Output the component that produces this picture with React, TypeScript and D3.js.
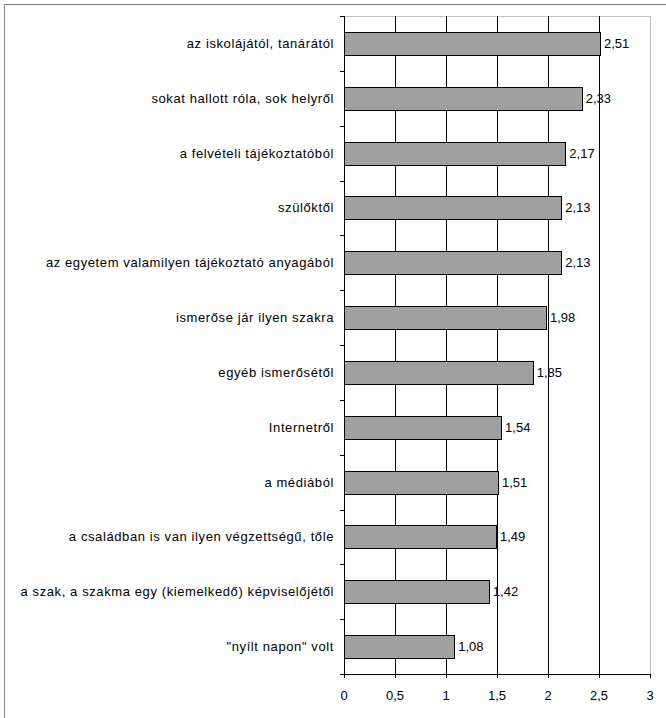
import { useEffect, useRef } from "react"
import * as d3 from "d3"

const categories = [
  "az iskolájától, tanárától",
  "sokat hallott róla, sok helyről",
  "a felvételi tájékoztatóból",
  "szülőktől",
  "az egyetem valamilyen tájékoztató anyagából",
  "ismerőse jár ilyen szakra",
  "egyéb ismerősétől",
  "Internetről",
  "a médiából",
  "a családban is van ilyen végzettségű, tőle",
  "a szak, a szakma egy (kiemelkedő) képviselőjétől",
  "\"nyílt napon\" volt",
]

const values = [2.51, 2.33, 2.17, 2.13, 2.13, 1.98, 1.85, 1.54, 1.51, 1.49, 1.42, 1.08]

const xTicks = [0, 0.5, 1, 1.5, 2, 2.5, 3]

const fmt = (v: number) => String(v).replace(".", ",")

export default function App() {
  const svgRef = useRef<SVGSVGElement>(null)

  useEffect(() => {
    if (!svgRef.current) return
    const root = d3.select(svgRef.current)
    root.selectAll("*").remove()

    const left = 344
    const right = 650
    const top = 16
    const bottom = 674
    const font = "'Liberation Sans', Arial, sans-serif"

    const x = d3.scaleLinear().domain([0, 3]).range([left, right])
    const y = d3
      .scaleBand()
      .domain(categories)
      .range([top, bottom])
      .paddingInner(0.58)
      .paddingOuter(0.29)
    const step = y.step()

    // outer frame
    root
      .append("rect")
      .attr("x", 4.5)
      .attr("y", 4.5)
      .attr("width", 720)
      .attr("height", 800)
      .attr("fill", "#fff")
      .attr("stroke", "#808080")

    // plot area border
    root
      .append("rect")
      .attr("x", left + 0.5)
      .attr("y", top + 0.5)
      .attr("width", right - left)
      .attr("height", bottom - top)
      .attr("fill", "none")
      .attr("stroke", "#c0c0c0")

    // gridlines
    root
      .append("g")
      .selectAll("line")
      .data(xTicks.filter((t) => t > 0 && t < 3))
      .join("line")
      .attr("x1", (d) => Math.round(x(d)) + 0.5)
      .attr("x2", (d) => Math.round(x(d)) + 0.5)
      .attr("y1", top)
      .attr("y2", bottom)
      .attr("stroke", "#000")

    // bars
    root
      .append("g")
      .selectAll("rect")
      .data(values)
      .join("rect")
      .attr("x", left + 0.5)
      .attr("y", (d, i) => Math.round(y(categories[i]) || 0) + 0.5)
      .attr("width", (d) => Math.round(x(d) - left))
      .attr("height", Math.round(y.bandwidth()))
      .attr("fill", "#a0a0a0")
      .attr("stroke", "#000")

    // value labels
    root
      .append("g")
      .selectAll("text")
      .data(values)
      .join("text")
      .attr("x", (d) => x(d) + 4)
      .attr("y", (d, i) => (y(categories[i]) || 0) + y.bandwidth() / 2)
      .attr("dy", "0.35em")
      .attr("font-family", font)
      .attr("font-size", 13)
      .attr("fill", "#000")
      .text((d) => fmt(d))

    // category labels
    root
      .append("g")
      .selectAll("text")
      .data(categories)
      .join("text")
      .attr("x", left - 10)
      .attr("y", (d) => (y(d) || 0) + y.bandwidth() / 2)
      .attr("dy", "0.35em")
      .attr("text-anchor", "end")
      .attr("font-family", font)
      .attr("font-size", 13)
      .attr("letter-spacing", 0.6)
      .attr("fill", "#000")
      .text((d) => d)

    // left axis
    const yAxis = root.append("g").attr("stroke", "#000")
    yAxis
      .append("line")
      .attr("x1", left + 0.5)
      .attr("x2", left + 0.5)
      .attr("y1", top)
      .attr("y2", bottom + 4)
    yAxis
      .selectAll("line.tick")
      .data(d3.range(categories.length + 1))
      .join("line")
      .attr("class", "tick")
      .attr("x1", left - 4)
      .attr("x2", left)
      .attr("y1", (i) => Math.round(top + i * step) + 0.5)
      .attr("y2", (i) => Math.round(top + i * step) + 0.5)

    // bottom axis
    const xAxis = root.append("g")
    xAxis
      .append("line")
      .attr("x1", left)
      .attr("x2", right + 1)
      .attr("y1", bottom + 0.5)
      .attr("y2", bottom + 0.5)
      .attr("stroke", "#000")
    xAxis
      .selectAll("line.tick")
      .data(xTicks)
      .join("line")
      .attr("class", "tick")
      .attr("x1", (d) => Math.round(x(d)) + 0.5)
      .attr("x2", (d) => Math.round(x(d)) + 0.5)
      .attr("y1", bottom)
      .attr("y2", bottom + 4)
      .attr("stroke", "#000")
    xAxis
      .selectAll("text")
      .data(xTicks)
      .join("text")
      .attr("x", (d) => x(d))
      .attr("y", bottom + 21)
      .attr("dy", "0.35em")
      .attr("text-anchor", "middle")
      .attr("font-family", font)
      .attr("font-size", 13)
      .attr("fill", "#000")
      .text((d) => fmt(d))
  }, [])

  return (
    <svg
      ref={svgRef}
      width={666}
      height={718}
      style={{ position: "absolute", left: 0, top: 0, background: "#fff" }}
    ></svg>
  )
}
